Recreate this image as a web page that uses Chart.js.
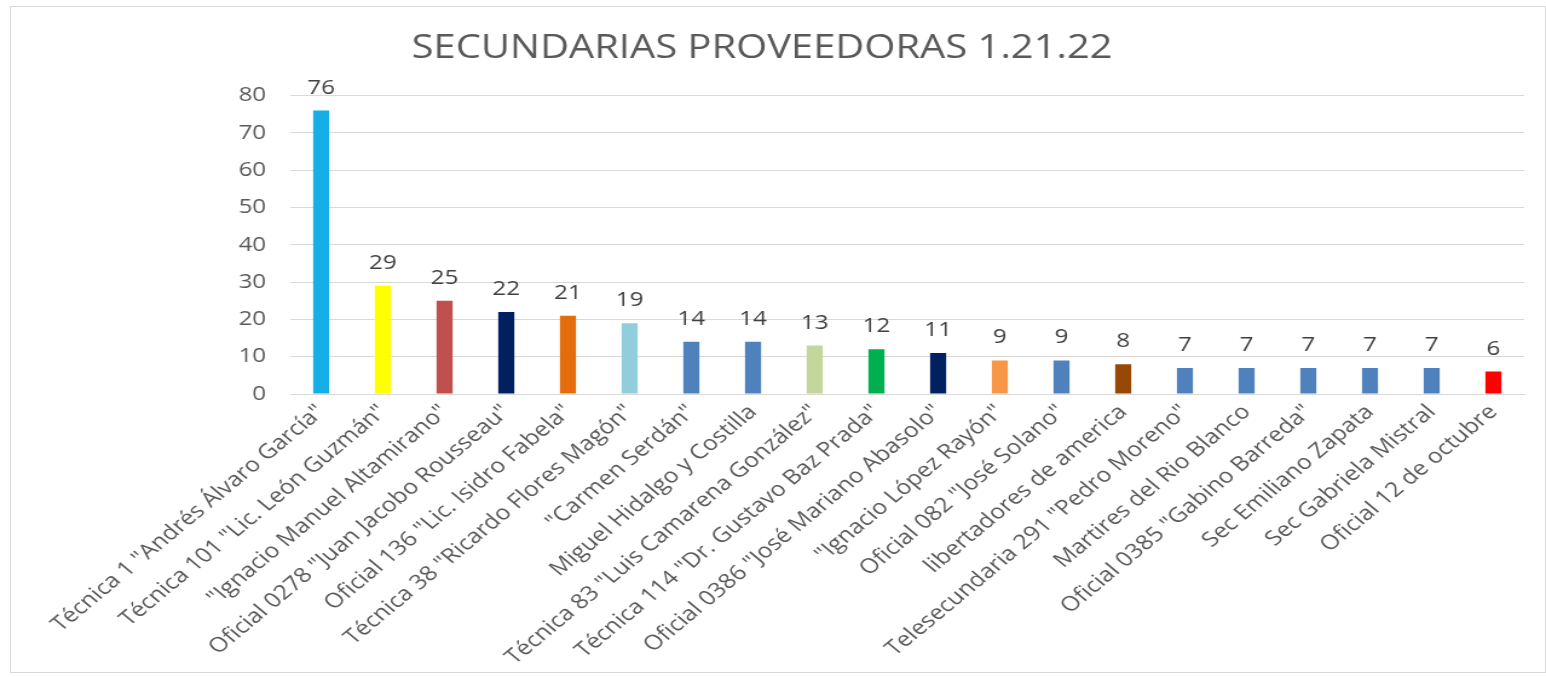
<!DOCTYPE html>
<html>
<head>
<meta charset="utf-8">
<script src="https://cdn.jsdelivr.net/npm/chart.js@4.4.0/dist/chart.umd.min.js"></script>
<style>
  html, body { margin: 0; padding: 0; background: #ffffff; overflow: hidden; }
  #wrap { position: absolute; left: 0; top: 0; width: 1278px; height: 677px; transform: scaleX(1.2097); transform-origin: 0 0; }
  #frame { position: absolute; left: 10px; top: 6px; width: 1536px; height: 667px; border: 1px solid #D9D9D9; box-sizing: border-box; pointer-events: none; }
</style>
</head>
<body>
<div id="wrap"><canvas id="c"></canvas></div>
<div id="frame"></div>
<script>
const title = "SECUNDARIAS PROVEEDORAS 1.21.22";
const categories = [
  'Técnica 1 "Andrés Álvaro García"',
  'Técnica 101 "Lic. León Guzmán"',
  '"Ignacio Manuel Altamirano"',
  'Oficial 0278 "Juan Jacobo Rousseau"',
  'Oficial 136 "Lic. Isidro Fabela"',
  'Técnica 38 "Ricardo Flores Magón"',
  '"Carmen Serdán"',
  'Miguel Hidalgo y Costilla',
  'Técnica 83 "Luis Camarena González"',
  'Técnica 114 "Dr. Gustavo Baz Prada"',
  'Oficial 0386 "José Mariano Abasolo"',
  '"Ignacio López Rayón"',
  'Oficial 082 "José Solano"',
  'libertadores de america',
  'Telesecundaria 291 "Pedro Moreno"',
  'Martires del Rio Blanco',
  'Oficial 0385 "Gabino Barreda"',
  'Sec Emiliano Zapata',
  'Sec Gabriela Mistral',
  'Oficial 12 de octubre'
];
const values = [76, 29, 25, 22, 21, 19, 14, 14, 13, 12, 11, 9, 9, 8, 7, 7, 7, 7, 7, 6];
const barColors = [
  '#16AEE6', '#FFFF00', '#C0504D', '#002060', '#E46C0A', '#92CDDC', '#4F81BD', '#4F81BD',
  '#C3D69B', '#00B050', '#002060', '#F79646', '#4F81BD', '#974806', '#4F81BD', '#4F81BD',
  '#4F81BD', '#4F81BD', '#4F81BD', '#FF0000'
];
const yTicks = [0, 10, 20, 30, 40, 50, 60, 70, 80];

const valueLabels = {
  id: 'valueLabels',
  afterDatasetsDraw(chart) {
    const ctx = chart.ctx;
    const meta = chart.getDatasetMeta(0);
    ctx.save();
    ctx.font = '20px "Open Sans", sans-serif';
    ctx.fillStyle = '#404040';
    ctx.textAlign = 'center';
    ctx.textBaseline = 'alphabetic';
    meta.data.forEach((bar, i) => {
      ctx.fillText(String(values[i]), bar.x, bar.y - 17);
    });
    ctx.restore();
  }
};

new Chart(document.getElementById('c'), {
  type: 'bar',
  data: {
    labels: categories,
    datasets: [{
      data: values,
      backgroundColor: barColors,
      borderWidth: 0,
      barPercentage: 0.26,
      categoryPercentage: 1.0
    }]
  },
  options: {
    responsive: true,
    maintainAspectRatio: false,
    animation: false,
    layout: { padding: { left: 0, right: 18, top: 0, bottom: 0 } },
    plugins: {
      legend: { display: false },
      tooltip: { enabled: false },
      title: {
        display: true,
        text: title,
        color: '#595959',
        font: { family: '"Open Sans", sans-serif', size: 33, weight: 'normal' },
        padding: { top: 29, bottom: 27 }
      }
    },
    scales: {
      x: {
        afterFit(scale) { scale.height = 283; },
        grid: { display: false, drawTicks: false },
        border: { display: true, color: '#D9D9D9', width: 1 },
        ticks: {
          autoSkip: false,
          minRotation: 45,
          maxRotation: 45,
          color: '#595959',
          padding: 6,
          font: { family: '"Open Sans", sans-serif', size: 20.5 }
        }
      },
      y: {
        min: 0,
        max: 80,
        afterFit(scale) { scale.width = 240; },
        afterBuildTicks(axis) { axis.ticks = yTicks.map(v => ({ value: v })); },
        grid: { color: '#D9D9D9', drawTicks: false },
        border: { display: false },
        ticks: {
          color: '#595959',
          padding: 20,
          font: { family: '"Open Sans", sans-serif', size: 20 }
        }
      }
    }
  },
  plugins: [valueLabels]
});
</script>
</body>
</html>
